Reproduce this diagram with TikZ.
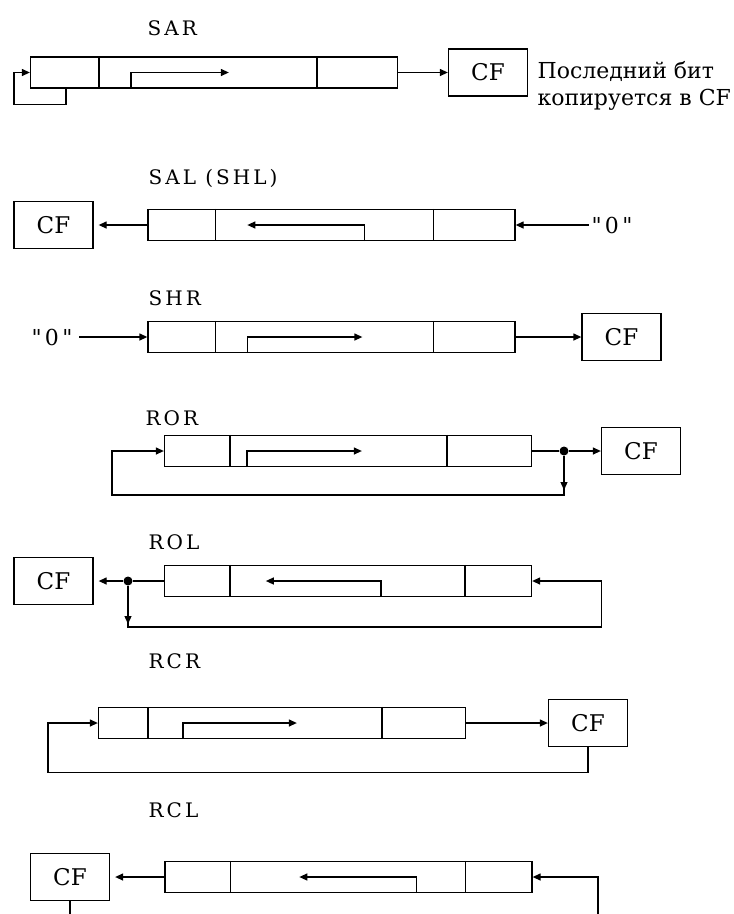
\documentclass[tikz,border=0pt]{standalone}
\usepackage{fontspec}
\setmainfont{DejaVu Serif}
\newfontfamily\spacedfont[LetterSpace=15]{DejaVu Serif}
\usetikzlibrary{arrows.meta}

\begin{document}
\begin{tikzpicture}[x=1pt,y=-1pt,line width=1.3pt,
    arr/.style={-{Triangle[length=8pt,width=7pt]}},
    reg/.style={draw,minimum width=367pt,minimum height=31pt,inner sep=0pt},
    cf/.style={draw,minimum width=79pt,minimum height=47pt,inner sep=0pt,font=\fontsize{23}{26}\selectfont},
    lbl/.style={anchor=west,inner sep=0pt,font=\spacedfont\fontsize{20}{24}\selectfont},
    zerotxt/.style={inner sep=2pt,font=\spacedfont\fontsize{22}{26}\selectfont},
    junction/.style={circle,fill,inner sep=0pt,minimum size=9pt}]
    \path[use as bounding box,fill=white] (0,0) rectangle (734,914);

    % SAR
    \node[lbl] (lsar) at (147,28) {SAR};
    \node[reg] (sar) at (214,72.5) {};
    \foreach \x in {69,287}
        \draw ([xshift=\x pt]sar.north west) -- ([xshift=\x pt]sar.south west);
    \draw[arr] ([xshift=101pt]sar.south west) |- ([xshift=199pt]sar.west);
    \draw[arr] ([xshift=36pt]sar.south west) -- ++(0,16) -| ([xshift=-16pt]sar.west) -- (sar.west);
    \node[cf] (cfa) at (488,72.5) {CF};
    \draw[arr] (sar.east) -- (cfa.west);
    \node[anchor=west,align=left,inner sep=0pt,font=\fontsize{22}{27}\selectfont] (note) at (537,86)
        {Последний бит\\копируется в CF};

    % SAL (SHL)
    \node[lbl] (lsal) at (148,178) {SAL (SHL)};
    \node[reg] (sal) at (331.5,225) {};
    \foreach \x in {68,286}
        \draw ([xshift=\x pt]sal.north west) -- ([xshift=\x pt]sal.south west);
    \draw[arr] ([xshift=217pt]sal.south west) |- ([xshift=100pt]sal.west);
    \node[cf] (cfb) at (53.5,225) {CF};
    \draw[arr,shorten >=5pt] (sal.west) -- (cfb.east);
    \node[zerotxt] (zerob) at (612,225) {"0"};
    \draw[arr] (zerob.west) -- (sal.east);

    % SHR
    \node[lbl] (lshr) at (148,298) {SHR};
    \node[reg] (shr) at (331.5,337) {};
    \foreach \x in {68,286}
        \draw ([xshift=\x pt]shr.north west) -- ([xshift=\x pt]shr.south west);
    \draw[arr] ([xshift=100pt]shr.south west) |- ([xshift=215pt]shr.west);
    \node[zerotxt] (zeroc) at (52,337) {"0"};
    \draw[arr,shorten <=4pt] (zeroc.east) -- (shr.west);
    \node[cf] (cfc) at (621.5,337) {CF};
    \draw[arr] (shr.east) -- (cfc.west);

    % ROR
    \node[lbl] (lror) at (145,418) {ROR};
    \node[reg] (ror) at (348,451) {};
    \foreach \x in {66,283}
        \draw ([xshift=\x pt]ror.north west) -- ([xshift=\x pt]ror.south west);
    \draw[arr] ([xshift=83pt]ror.south west) |- ([xshift=198pt]ror.west);
    \node[cf] (cfd) at (641,451) {CF};
    \node[junction] (jd) at (564,451) {};
    \draw (ror.east) -- (jd);
    \draw[arr] (jd) -- (cfd.west);
    \draw[arr] (jd) -- ++(0,39);
    \draw[arr] (jd) -- ++(0,44) -| ([xshift=-52pt]ror.west) -- (ror.west);

    % ROL
    \node[lbl] (lrol) at (148,542) {ROL};
    \node[reg] (rol) at (348,581) {};
    \foreach \x in {66,301}
        \draw ([xshift=\x pt]rol.north west) -- ([xshift=\x pt]rol.south west);
    \draw[arr] ([xshift=217pt]rol.south west) |- ([xshift=102pt]rol.west);
    \node[cf] (cfe) at (53.5,581) {CF};
    \node[junction] (je) at (128,581) {};
    \draw (rol.west) -- (je);
    \draw[arr,shorten >=5pt] (je) -- (cfe.east);
    \draw[arr] (je) -- ++(0,43);
    \draw[arr] (je) -- ++(0,46) -| ([xshift=69pt]rol.east) -- (rol.east);

    % RCR
    \node[lbl] (lrcr) at (148,661) {RCR};
    \node[reg] (rcr) at (282,723) {};
    \foreach \x in {50,284}
        \draw ([xshift=\x pt]rcr.north west) -- ([xshift=\x pt]rcr.south west);
    \draw[arr] ([xshift=85pt]rcr.south west) |- ([xshift=199pt]rcr.west);
    \node[cf] (cff) at (588,723) {CF};
    \draw[arr] (rcr.east) -- (cff.west);
    \draw[arr] (cff.south) -- ++(0,25.5) -| ([xshift=-50pt]rcr.west) -- (rcr.west);

    % RCL
    \node[lbl] (lrcl) at (148,810) {RCL};
    \node[reg] (rcl) at (348.5,877) {};
    \foreach \x in {66,301}
        \draw ([xshift=\x pt]rcl.north west) -- ([xshift=\x pt]rcl.south west);
    \draw[arr] ([xshift=252pt]rcl.south west) |- ([xshift=135pt]rcl.west);
    \node[cf] (cfg) at (70,877) {CF};
    \draw[arr,shorten >=5pt] (rcl.west) -- (cfg.east);
    \draw (cfg.south) -- ++(0,20);
    \coordinate (rclin) at (598,916);
    \draw[arr] (rclin) |- (rcl.east);
\end{tikzpicture}
\end{document}
